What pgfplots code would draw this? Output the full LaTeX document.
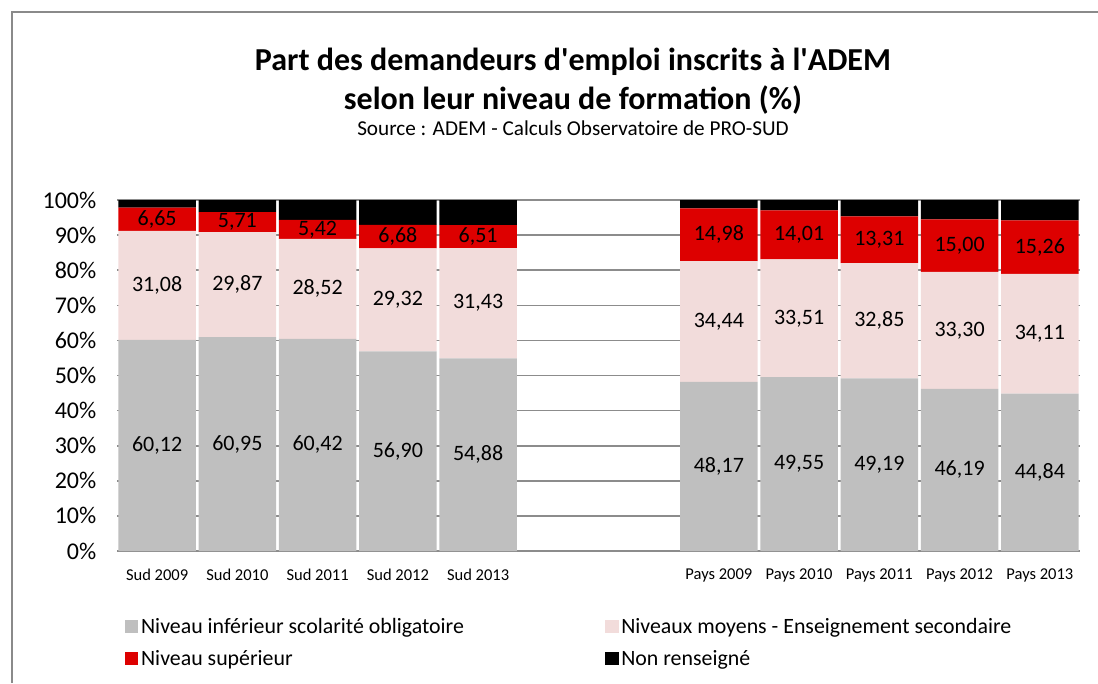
\documentclass[border=0pt]{standalone}
\usepackage{pgfplots}
\pgfplotsset{compat=1.18}
\usepackage{pgfplotstable}
\usepackage{fontspec}
\setmainfont{Carlito}
\definecolor{cLow}{HTML}{BFBFBF}
\definecolor{cMid}{HTML}{F2DCDB}
\definecolor{cSup}{HTML}{DD0000}
\definecolor{cGrid}{HTML}{8C8C8C}
\definecolor{cFrame}{HTML}{8A8A8A}

\pgfplotstableread{
x  low    mid    sup    nr
0  60.12  31.08  6.65   2.15
1  60.95  29.87  5.71   3.47
2  60.42  28.52  5.42   5.64
3  56.90  29.32  6.68   7.10
4  54.88  31.43  6.51   7.18
7  48.17  34.44  14.98  2.41
8  49.55  33.51  14.01  2.93
9  49.19  32.85  13.31  4.65
10 46.19  33.30  15.00  5.51
11 44.84  34.11  15.26  5.79
}\datatable

\pgfplotsset{
  midlabel/.style={
    nodes near coords={\pgfmathprintnumber[fixed,fixed zerofill,precision=2,use comma]{\pgfplotspointmeta}},
    point meta=rawy,
    every node near coord/.style={anchor=center, text=black,
      font=\fontsize{16.5}{16.5}\selectfont},
  }
}

\begin{document}
\begin{tikzpicture}
\begin{axis}[
  set layers,
  at={(87.75pt,99pt)}, anchor=south west,
  scale only axis,
  width=722.25pt, height=263.25pt,
  ybar stacked, bar width=0.965,
  xmin=-0.5, xmax=11.5, ymin=0, ymax=100,
  enlargelimits=false,
  axis x line*=bottom, axis y line*=left,
  y axis line style={draw=none},
  x axis line style={draw=cGrid, line width=1.2pt},
  ymajorgrids, grid style={draw=cGrid, line width=1.2pt},
  major tick length=0pt,
  ytick={0,10,...,100},
  /pgf/number format/assume math mode=true,
  yticklabel={\pgfmathprintnumber{\tick}\%},
  yticklabel style={font=\fontsize{18}{18}\selectfont, xshift=-12pt},
  xtick={0,1,2,3,4,7,8,9,10,11},
  xticklabels={Sud 2009,Sud 2010,Sud 2011,Sud 2012,Sud 2013,Pays 2009,Pays 2010,Pays 2011,Pays 2012,Pays 2013},
  xticklabel style={font=\fontsize{12.4}{12.4}\selectfont, yshift=-10pt},
  legend columns=2,
  legend cell align=left,
  legend style={draw=none, fill=none, at={(axis description cs:0.004,-0.175)}, anchor=north west,
    font=\fontsize{16.4}{16.4}\selectfont,
    /tikz/every even column/.append style={column sep=104pt},
    row sep=7.5pt},
  legend image code/.code={\fill[#1] (0pt,-4.8pt) rectangle (10pt,5.2pt);},
]
\addplot[fill=cLow, draw=none, midlabel] table[x=x, y=low] {\datatable};
\addlegendentry{Niveau inférieur scolarité obligatoire}
\addplot[fill=cMid, draw=none, midlabel] table[x=x, y=mid] {\datatable};
\addlegendentry{Niveaux moyens - Enseignement secondaire}
\addplot[fill=cSup, draw=none, midlabel] table[x=x, y=sup] {\datatable};
\addlegendentry{Niveau supérieur}
\addplot[fill=black, draw=none] table[x=x, y=nr] {\datatable};
\addlegendentry{Non renseigné}
\end{axis}
\node[font=\bfseries\fontsize{24}{24}\selectfont] at (429.75pt,465.75pt) {Part des demandeurs d\textquotesingle emploi inscrits à l\textquotesingle ADEM};
\node[font=\bfseries\fontsize{24}{24}\selectfont] at (429.75pt,437.25pt) {selon leur niveau de formation (\%)};
\node[font=\fontsize{15.9}{15.9}\selectfont] at (429.75pt,416.25pt) {Source : ADEM - Calculs Observatoire de PRO-SUD};
\draw[cFrame, line width=1.5pt] (9pt,0pt) -- (9pt,503.25pt) -- (823.5pt,503.25pt);
\pgfresetboundingbox
\path[use as bounding box] (0pt,0pt) rectangle (823.5pt,512.25pt);
\end{tikzpicture}
\end{document}
